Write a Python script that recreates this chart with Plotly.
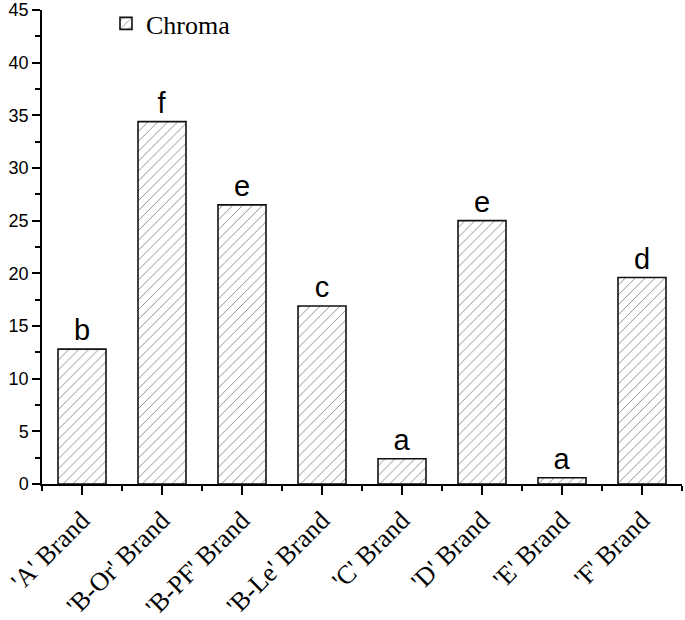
import plotly.graph_objects as go

brands = ["'A' Brand", "'B-Or' Brand", "'B-PF' Brand", "'B-Le' Brand",
          "'C' Brand", "'D' Brand", "'E' Brand", "'F' Brand"]
chroma = [12.8, 34.4, 26.5, 16.9, 2.4, 25.0, 0.6, 19.6]
letters = ["b", "f", "e", "c", "a", "e", "a", "d"]
y_ticks = [0, 5, 10, 15, 20, 25, 30, 35, 40, 45]

pos = list(range(len(brands)))

fig = go.Figure()
fig.add_trace(go.Bar(
    x=pos,
    y=chroma,
    width=0.6,
    name="Chroma",
    text=letters,
    textposition="outside",
    textfont=dict(family="Liberation Sans, Arial", size=29, color="black"),
    cliponaxis=False,
    marker=dict(
        color="white",
        line=dict(color="#111111", width=1.6),
        pattern=dict(shape="/", size=7, solidity=0.13, fgcolor="#111111", bgcolor="white"),
    ),
))

fig.update_layout(
    width=685,
    height=620,
    margin=dict(l=42, r=3, t=10, b=136, autoexpand=False),
    plot_bgcolor="white",
    paper_bgcolor="white",
    showlegend=True,
    legend=dict(
        x=0.1, y=1.0, xanchor="left", yanchor="top", yref="container",
        font=dict(family="Liberation Serif, Times New Roman", size=26, color="black"),
        bgcolor="rgba(0,0,0,0)",
        borderwidth=0,
        tracegroupgap=0,
    ),
)
fig.update_xaxes(
    range=[-0.5, len(brands) - 0.5],
    tickmode="array",
    tickvals=pos,
    ticktext=brands,
    tickangle=-45,
    ticklabeloverflow="allow",
    tickfont=dict(family="Liberation Serif, Times New Roman", size=26, color="black"),
    ticks="outside", ticklen=9, tickwidth=1.5, tickcolor="black",
    minor=dict(tick0=-0.5, dtick=1, ticks="outside", ticklen=5, tickwidth=1.5, tickcolor="black"),
    showline=True, linecolor="black", linewidth=1.5,
    showgrid=False, zeroline=False, automargin=False,
)
fig.update_yaxes(
    range=[0, 45],
    tickmode="array",
    tickvals=y_ticks,
    ticklabeloverflow="allow",
    tickfont=dict(family="Liberation Sans, Arial", size=18, color="black"),
    ticks="outside", ticklen=8, tickwidth=1.5, tickcolor="black",
    minor=dict(tick0=2.5, dtick=5, ticks="outside", ticklen=5, tickwidth=1.5, tickcolor="black"),
    showline=True, linecolor="black", linewidth=1.5,
    showgrid=False, zeroline=False, automargin=False,
)

# drop the browser's default body margin so the figure sits at the page corner
fig.write_html(
    "out.html",
    config={"displayModeBar": False},
    post_script="document.body.style.margin = '0';",
)
